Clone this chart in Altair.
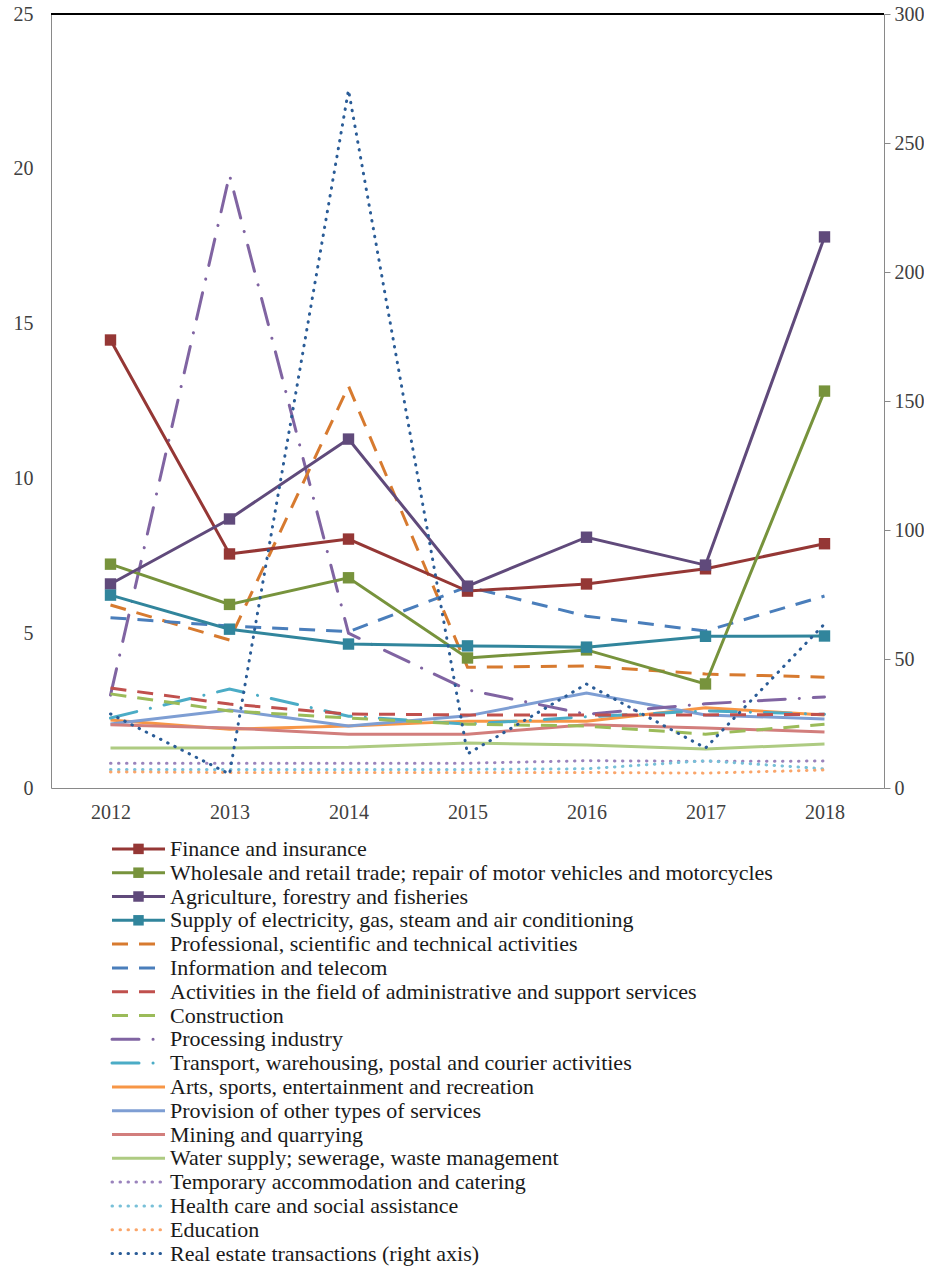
import altair as alt
import pandas as pd

# ---- data -------------------------------------------------------------
years = ["2012", "2013", "2014", "2015", "2016", "2017", "2018"]

series_names = [
    "Finance and insurance",
    "Wholesale and retail trade; repair of motor vehicles and motorcycles",
    "Agriculture, forestry and fisheries",
    "Supply of electricity, gas, steam and air conditioning",
    "Professional, scientific and technical activities",
    "Information and telecom",
    "Activities in the field of administrative and support services",
    "Construction",
    "Processing industry",
    "Transport, warehousing, postal and courier activities",
    "Arts, sports, entertainment and recreation",
    "Provision of other types of services",
    "Mining and quarrying",
    "Water supply; sewerage, waste management",
    "Temporary accommodation and catering",
    "Health care and social assistance",
    "Education",
    "Real estate transactions (right axis)",
]

finance = [14.47, 7.56, 8.04, 6.36, 6.59, 7.08, 7.89]
wholesale = [7.23, 5.93, 6.79, 4.20, 4.46, 3.36, 12.82]
agriculture = [6.59, 8.69, 11.27, 6.52, 8.10, 7.20, 17.80]
electricity = [6.23, 5.13, 4.65, 4.59, 4.55, 4.90, 4.91]
professional = [5.91, 4.78, 12.98, 3.90, 3.94, 3.68, 3.58]
telecom = [5.50, 5.23, 5.05, 6.50, 5.55, 5.07, 6.20]
administrative = [3.23, 2.71, 2.39, 2.36, 2.36, 2.36, 2.38]
construction = [3.04, 2.49, 2.26, 2.06, 2.00, 1.74, 2.06]
processing = [3.00, 19.80, 5.00, 3.17, 2.38, 2.72, 2.94]
transport = [2.26, 3.20, 2.32, 2.06, 2.30, 2.49, 2.38]
arts = [2.20, 1.90, 2.00, 2.16, 2.16, 2.59, 2.36]
other_services = [2.07, 2.52, 2.00, 2.33, 3.07, 2.36, 2.23]
mining = [2.04, 1.94, 1.74, 1.74, 2.04, 1.94, 1.81]
water = [1.29, 1.29, 1.32, 1.45, 1.39, 1.26, 1.42]
accommodation = [0.80, 0.80, 0.80, 0.80, 0.88, 0.86, 0.87]
health = [0.60, 0.60, 0.60, 0.60, 0.62, 0.88, 0.62]
education = [0.52, 0.50, 0.50, 0.50, 0.50, 0.48, 0.58]
real_estate = [28.7, 5.4, 270.5, 13.2, 40.3, 15.5, 63.6]  # right axis

values = [
    finance, wholesale, agriculture, electricity, professional, telecom,
    administrative, construction, processing, transport, arts,
    other_services, mining, water, accommodation, health, education,
    real_estate,
]

styles = (["marker"] * 4 + ["dashed"] * 4 + ["dashdot"] * 2
          + ["solid"] * 4 + ["dotted"] * 3 + ["dotted_right"])

colors = [
    "#953735", "#77933C", "#604A7B", "#31859C",
    "#D77A2F", "#4A7EBB", "#C0504D", "#9BBB59",
    "#8064A2", "#4BACC6",
    "#F79646", "#7E9ED3", "#D27E7C", "#AECB82",
    "#9A83BC", "#78C0D8", "#FAA56A", "#2A5C97",
]

rows = []
for name, vals, st in zip(series_names, values, styles):
    for yr, v in zip(years, vals):
        rows.append({"year": yr, "series": name, "value": v, "style": st})
df = pd.DataFrame(rows)
legend_df = pd.DataFrame({"series": series_names, "style": styles})

# ---- styling ----------------------------------------------------------
FONT = "Liberation Serif"
AXIS_GRAY = "#898989"
LABEL_COLOR = "#404040"
W, H = 833, 774
LINE_W = 3
NO_FRAME = alt.ViewBackground(stroke="transparent", strokeWidth=0)

line_props = {
    "marker": dict(strokeWidth=LINE_W),
    "solid": dict(strokeWidth=LINE_W),
    "dashed": dict(strokeWidth=LINE_W, strokeDash=[16, 11]),
    "dashdot": dict(strokeWidth=LINE_W, strokeDash=[27, 14, 0.1, 14], strokeCap="round"),
    "dotted": dict(strokeWidth=LINE_W, strokeDash=[0.5, 7.5], strokeCap="round"),
    "dotted_right": dict(strokeWidth=LINE_W, strokeDash=[0.5, 7.5], strokeCap="round"),
}

color = alt.Color(
    "series:N",
    scale=alt.Scale(domain=series_names, range=colors),
    legend=None,
)

x_enc = alt.X(
    "year:O",
    scale=alt.Scale(type="point", padding=0.5),
    axis=alt.Axis(
        title=None, labelAngle=0, ticks=False, grid=False,
        domainColor=AXIS_GRAY, labelFont=FONT, labelFontSize=20,
        labelColor=LABEL_COLOR, labelPadding=14,
    ),
)

y_left = alt.Y(
    "value:Q",
    scale=alt.Scale(domain=[0, 25], nice=False),
    axis=alt.Axis(
        title=None, values=[0, 5, 10, 15, 20, 25], grid=False, ticks=False,
        domainColor=AXIS_GRAY, labelFont=FONT, labelFontSize=20,
        labelColor=LABEL_COLOR, labelPadding=18,
    ),
)

y_right = alt.Y(
    "value:Q",
    scale=alt.Scale(domain=[0, 300], nice=False),
    axis=alt.Axis(
        title=None, orient="right", values=[0, 50, 100, 150, 200, 250, 300],
        grid=False, ticks=True, tickSize=6, tickColor=AXIS_GRAY,
        domainColor=AXIS_GRAY, labelFont=FONT, labelFontSize=20,
        labelColor=LABEL_COLOR, labelPadding=4,
    ),
)


def series_lines(style, y_enc, **extra):
    return (
        alt.Chart(df)
        .transform_filter(alt.datum.style == style)
        .mark_line(**line_props[style], **extra)
        .encode(x=x_enc, y=y_enc, color=color)
    )


markers = (
    alt.Chart(df)
    .transform_filter(alt.datum.style == "marker")
    .mark_point(shape="square", filled=True, size=130, opacity=1)
    .encode(x=x_enc, y=y_left, color=color)
)

top_border = alt.Chart(df).mark_rule(color="black", strokeWidth=1).encode(
    x=alt.value(0), x2=alt.value(W), y=alt.value(0)
)

left_layer = alt.layer(
    top_border,
    series_lines("dotted", y_left),
    series_lines("solid", y_left),
    series_lines("dashdot", y_left),
    series_lines("dashed", y_left),
    series_lines("marker", y_left),
    markers,
)
right_layer = series_lines("dotted_right", y_right)

main = (
    alt.layer(left_layer, right_layer)
    .resolve_scale(y="independent")
    .properties(width=W, height=H, view=NO_FRAME)
)

# ---- legend (single column under the plot) -----------------------------
ROW_H = 23.8
LEG_H = ROW_H * len(series_names)
y_leg = alt.Y(
    "series:N", sort=series_names,
    scale=alt.Scale(type="point", padding=0.5), axis=None,
)
GLYPH_X0, GLYPH_X1, TEXT_X = 61, 114, 119


def legend_glyph(style):
    props = dict(line_props[style])
    return (
        alt.Chart(legend_df)
        .transform_filter(alt.datum.style == style)
        .mark_rule(**props)
        .encode(x=alt.value(GLYPH_X0), x2=alt.value(GLYPH_X1), y=y_leg, color=color)
    )


legend_layers = [legend_glyph(s) for s in
                 ["marker", "dashed", "dashdot", "solid", "dotted", "dotted_right"]]
legend_layers.append(
    alt.Chart(legend_df)
    .transform_filter(alt.datum.style == "marker")
    .mark_point(shape="square", filled=True, size=110, opacity=1)
    .encode(x=alt.value((GLYPH_X0 + GLYPH_X1) / 2), y=y_leg, color=color)
)
legend_layers.append(
    alt.Chart(legend_df)
    .mark_text(align="left", baseline="middle", font=FONT, fontSize=22, color="#1a1a1a")
    .encode(x=alt.value(TEXT_X), y=y_leg, text="series:N")
)
legend = alt.layer(*legend_layers).properties(width=W, height=LEG_H, view=NO_FRAME)

chart = (
    alt.vconcat(main, legend, spacing=49, bounds="flush")
    .properties(padding={"left": 13, "top": 4, "right": 0, "bottom": 0})
    .configure_view(stroke="transparent", strokeWidth=0)
    .configure(background="white")
)

chart.save("out.html", embed_options={"renderer": "svg", "actions": False})
